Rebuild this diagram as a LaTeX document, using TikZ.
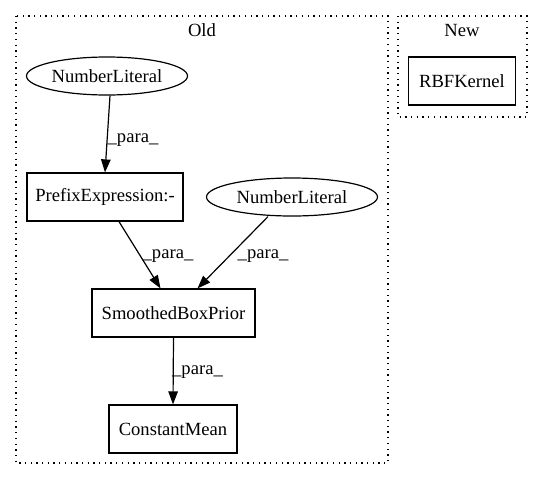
\documentclass[tikz,border=0pt]{standalone}
\usepackage{fontspec}
\setmainfont{Liberation Serif}
\usetikzlibrary{shapes.geometric,arrows.meta}

\tikzset{
  box/.style={draw, rectangle, inner sep=0pt, minimum height=48pt, line width=1.2pt},
  lit/.style={draw, ellipse, inner sep=0pt, minimum height=38pt, line width=1.2pt},
  cluster/.style={draw, dash pattern=on 1.3pt off 4.4pt, line width=1.2pt},
  edge/.style={-{Triangle[length=13pt,width=9.5pt]}, line width=1.2pt},
  lbl/.style={inner sep=0pt}
}

\begin{document}
\begin{tikzpicture}[x=1pt, y=-1pt, font=\fontsize{18.6}{22}\selectfont]
  \useasboundingbox (0,0) rectangle (543,480);

  % Clusters
  \draw[cluster] (16,16) rectangle (388,463);
  \node[lbl] (oldtitle) at (202,30) {Old};
  \draw[cluster] (398,16) rectangle (527,117);
  \node[lbl] (newtitle) at (462,30) {New};

  % Nodes of Old
  \node[lit, minimum width=161pt] (numlit1) at (107,76) {NumberLiteral};
  \node[box, minimum width=156pt] (prefix) at (105,197) {PrefixExpression:-};
  \node[lit, minimum width=171pt] (numlit2) at (292,197) {NumberLiteral};
  \node[box, minimum width=163pt] (smoothed) at (173.5,313) {SmoothedBoxPrior};
  \node[box, minimum width=128pt] (constmean) at (173,429) {ConstantMean};

  % Node of New
  \node[box, minimum width=107pt] (rbf) at (462,81) {RBFKernel};

  % Edges
  \draw[edge] (numlit1.south) ++(3,0) coordinate (e1) (e1) -- (prefix.north);
  \node[lbl] (para1) at (133,140) {\_para\_};

  \draw[edge] (prefix.south) ++(14,0) coordinate (e2) (e2) -- ([xshift=-13pt]smoothed.north);
  \node[lbl] (para2) at (168,256) {\_para\_};

  \draw[edge] (numlit2.south) ++(-24,0) coordinate (e3) (e3) -- ([xshift=24pt]smoothed.north);
  \node[lbl] (para3) at (263,256) {\_para\_};

  \draw[edge] (smoothed.south) -- (constmean.north);
  \node[lbl] (para4) at (197.5,372) {\_para\_};

\end{tikzpicture}
\end{document}
